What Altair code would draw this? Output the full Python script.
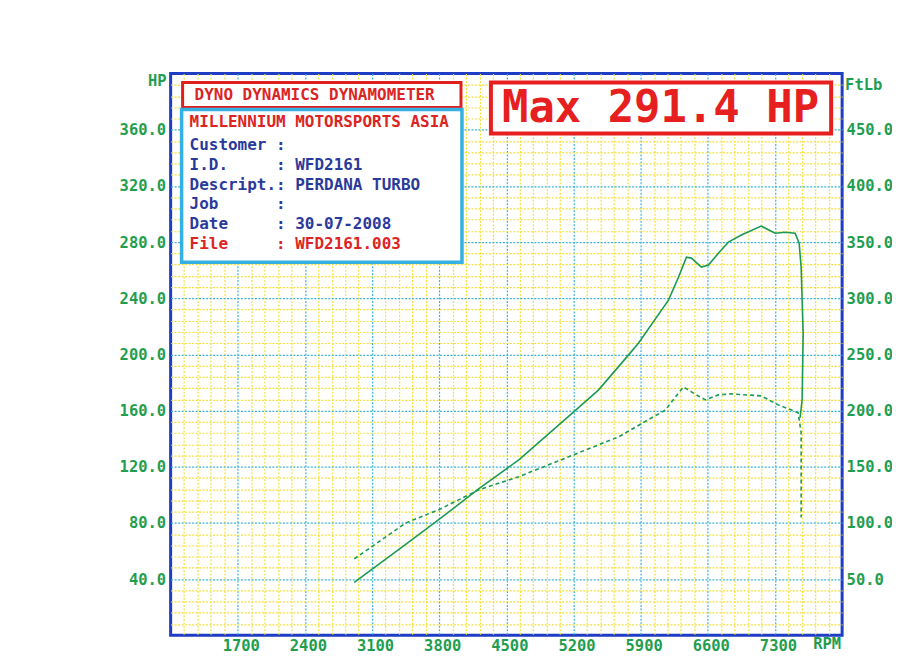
import altair as alt
import pandas as pd

# ---- data read from the dyno sheet ----
rpm_power = [2914, 3454, 3798, 4214, 4630, 5202, 5462, 5774, 5878, 6190, 6294, 6377,
             6429, 6533, 6606, 6710, 6814, 6949, 7157, 7302, 7406, 7510, 7552, 7573,
             7583, 7594, 7583, 7562]
hp_values = [37.7, 65.0, 82.5, 104.4, 125.0, 159.1, 174.8, 199.7, 208.2, 238.7, 255.0, 269.3,
             268.6, 262.2, 263.6, 272.0, 280.0, 285.0, 291.4, 286.3, 287.0, 286.3, 279.2, 262.2,
             238.7, 215.3, 167.7, 154.9]

rpm_torque = [2914, 3454, 3798, 4214, 4630, 5202, 5670, 6159, 6263, 6346, 6429, 6502,
              6574, 6710, 6845, 7157, 7334, 7469, 7542, 7573, 7573, 7573]
torque_values = [68.1, 100.1, 111.9, 129.6, 141.2, 160.7, 176.7, 200.7, 212.2, 221.1, 216.7, 213.0,
                 209.6, 214.0, 214.9, 213.1, 205.1, 200.7, 198.0, 180.3, 135.9, 104.8]

rpm_labels = [1700, 2400, 3100, 3800, 4500, 5200, 5900, 6600, 7300]
hp_labels = [40, 80, 120, 160, 200, 240, 280, 320, 360]
ftlb_labels = [50, 100, 150, 200, 250, 300, 350, 400, 450]

header_title = "DYNO DYNAMICS DYNAMOMETER"
shop_name = "MILLENNIUM MOTORSPORTS ASIA"
info_keys = ["Customer", "I.D.", "Descript.", "Job", "Date"]
info_vals = ["", "WFD2161", "PERDANA TURBO", "", "30-07-2008"]
file_key, file_val = "File", "WFD2161.003"
max_text = "Max 291.4 HP"

# grid positions (minor every 140 rpm / 8 hp, major every 700 rpm / 40 hp)
x_grid = list(range(1140, 8000, 140))
y_grid = list(range(8, 400, 8))

power_df = pd.DataFrame({"rpm": rpm_power, "hp": hp_values, "i": range(len(rpm_power))})
torque_df = pd.DataFrame({"rpm": rpm_torque, "torque": torque_values, "i": range(len(rpm_torque))})

FONT = "DejaVu Sans Mono"
GREEN = "#1f9e50"
LINE = "#1c9a55"
YEL = "#f4e03a"
CYAN = "#3db3d8"
RED = "#dc2424"
BLUE_TXT = "#2a3a9c"
W, H = 673, 563

lab = dict(labelFont=FONT, labelFontWeight="bold", labelFontSize=15.5, labelColor=GREEN,
           tickSize=0, domain=False, title=None, labelOverlap=False, labelFlush=False)

x_enc = alt.X("rpm:Q", scale=alt.Scale(domain=[1000, 8000], nice=False, zero=False),
              axis=alt.Axis(values=x_grid,
                            labelExpr="indexof(" + str(rpm_labels) + ", datum.value) >= 0 ? datum.value : ''",
                            grid=True, gridWidth=1.2, gridDash=[2, 1.5],
                            gridColor={"condition": {"test": "datum.value % 700 == 300", "value": CYAN}, "value": YEL},
                            labelPadding=3, labelOffset=3, **lab))

power = alt.Chart(power_df).mark_line(color=LINE, strokeWidth=1.6).encode(
    x=x_enc,
    y=alt.Y("hp:Q", scale=alt.Scale(domain=[0, 400], nice=False),
            axis=alt.Axis(values=y_grid,
                          labelExpr="indexof(" + str(hp_labels) + ", datum.value) >= 0 ? format(datum.value, '.1f') : ''",
                          grid=True, gridWidth=1.2, gridDash=[2, 1.5],
                          gridColor={"condition": {"test": "datum.value % 40 == 0", "value": CYAN}, "value": YEL},
                          labelPadding=5, **lab)),
    order="i:Q",
)

torque = alt.Chart(torque_df).mark_line(color=LINE, strokeWidth=1.6, strokeDash=[4, 3]).encode(
    x=x_enc,
    y=alt.Y("torque:Q", scale=alt.Scale(domain=[0, 500], nice=False),
            axis=alt.Axis(orient="right", values=ftlb_labels, format=".1f", grid=False,
                          labelPadding=4, **lab)),
    order="i:Q",
)

one = pd.DataFrame({"a": [0]})


def box(x1, x2, y1, y2, color, sw):
    return alt.Chart(one).mark_rect(fill="white", stroke=color, strokeWidth=sw).encode(
        x=alt.value(x1), x2=alt.value(x2), y=alt.value(y1), y2=alt.value(y2))


def txt(text, x, y, color, size=16, align="left", **kw):
    return alt.Chart(one).mark_text(text=text, font=FONT, fontWeight="bold", fontSize=size,
                                    color=color, align=align, baseline="middle", **kw).encode(
        x=alt.value(x), y=alt.value(y))


nb = "\u00a0"
info_lines = [(k.ljust(9, nb) + ":" + ((nb + v) if v else "")) for k, v in zip(info_keys, info_vals)]
file_line = file_key.ljust(9, nb) + ":" + nb + file_val

layers = [
    power, torque,
    box(12, 291, 9, 34, "#e0201c", 3),
    box(11, 292, 36, 189, "#35b0e2", 3.5),
    box(321, 662, 9, 60, "#e5201e", 4),
    txt(header_title, 24, 21.5, RED),
    txt(shop_name, 19, 49, RED),
    txt(info_lines, 19, 72, BLUE_TXT, lineHeight=19.6),
    txt(file_line, 19, 171, RED),
    txt(max_text, 491, 36, "#e5201e", size=44, align="center"),
    txt("HP", -4, 7, GREEN, size=15.5, align="right"),
    txt("FtLb", 676, 11, GREEN, size=15.5),
    txt("RPM", 658, 572, GREEN, size=15.5, align="center"),
]

chart = alt.layer(*layers).resolve_scale(y="independent").properties(
    width=W, height=H,
    autosize=alt.AutoSizeParams(type="none"),
    padding={"left": 163, "top": 65, "right": 50, "bottom": 20},
    background="white",
).configure_view(stroke="#1f3cc4", strokeWidth=3)

chart.save("out.html", embed_options={"renderer": "svg", "actions": False})
